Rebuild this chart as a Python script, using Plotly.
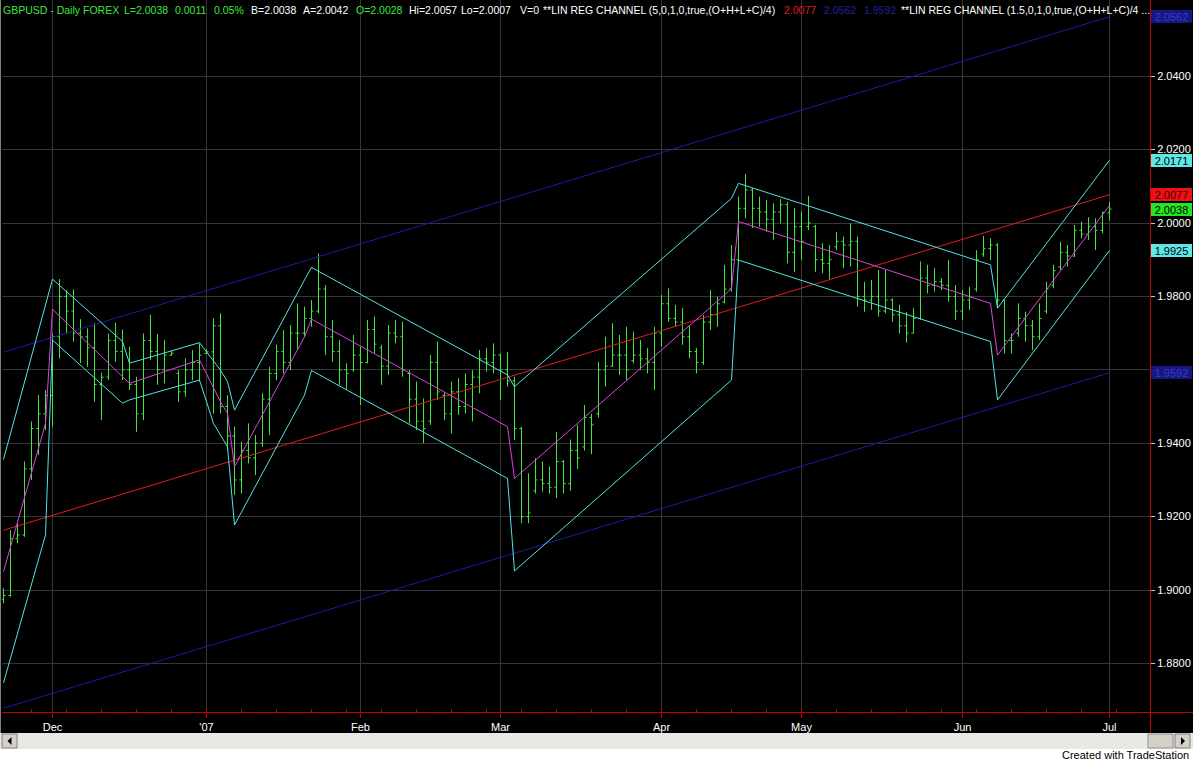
import plotly.graph_objects as go

# ---------------- data ----------------
high = [1.9005, 1.9163, 1.9182, 1.9350, 1.9459, 1.9531, 1.9545, 1.9699, 1.9847, 1.9817,
        1.9819, 1.9738, 1.9713, 1.9727, 1.9592, 1.9699, 1.9728, 1.9710, 1.9663, 1.9581,
        1.9699, 1.9750, 1.9698, 1.9681, 1.9652, 1.9599, 1.9631, 1.9654, 1.9672, 1.9655,
        1.9740, 1.9754, 1.9531, 1.9445, 1.9404, 1.9454, 1.9422, 1.9536, 1.9608, 1.9669,
        1.9708, 1.9722, 1.9781, 1.9772, 1.9790, 1.9917, 1.9831, 1.9736, 1.9681, 1.9618,
        1.9695, 1.9663, 1.9736, 1.9745, 1.9668, 1.9722, 1.9736, 1.9731, 1.9599, 1.9568,
        1.9522, 1.9640, 1.9677, 1.9538, 1.9568, 1.9577, 1.9590, 1.9599, 1.9654, 1.9659,
        1.9672, 1.9645, 1.9649, 1.9581, 1.9445, 1.9318, 1.9359, 1.9350, 1.9336, 1.9431,
        1.9354, 1.9410, 1.9450, 1.9504, 1.9480, 1.9622, 1.9690, 1.9727, 1.9695, 1.9717,
        1.9704, 1.9681, 1.9659, 1.9717, 1.9804, 1.9822, 1.9777, 1.9768, 1.9722, 1.9659,
        1.9749, 1.9817, 1.9799, 1.9886, 1.9940, 2.0072, 2.0134, 2.0095, 2.0072, 2.0063,
        2.0054, 2.0065, 2.0058, 2.0040, 2.0031, 2.0074, 1.9995, 1.9945, 1.9940, 1.9976,
        1.9963, 1.9999, 1.9963, 1.9840, 1.9845, 1.9872, 1.9872, 1.9795, 1.9777, 1.9758,
        1.9768, 1.9895, 1.9886, 1.9877, 1.9849, 1.9899, 1.9831, 1.9817, 1.9826, 1.9926,
        1.9965, 1.9958, 1.9945, 1.9790, 1.9699, 1.9781, 1.9758, 1.9736, 1.9781, 1.9840,
        1.9886, 1.9949, 1.9940, 1.9995, 2.0004, 2.0016, 2.0013, 2.0031, 2.0057]

low = [1.8964, 1.8982, 1.9128, 1.9145, 1.9300, 1.9368, 1.9436, 1.9445, 1.9631, 1.9699,
       1.9677, 1.9618, 1.9608, 1.9513, 1.9463, 1.9572, 1.9622, 1.9572, 1.9545, 1.9431,
       1.9463, 1.9627, 1.9559, 1.9563, 1.9638, 1.9513, 1.9527, 1.9572, 1.9568, 1.9643,
       1.9481, 1.9481, 1.9381, 1.9259, 1.9263, 1.9345, 1.9313, 1.9390, 1.9422, 1.9572,
       1.9590, 1.9599, 1.9654, 1.9690, 1.9717, 1.9754, 1.9640, 1.9622, 1.9559, 1.9545,
       1.9595, 1.9504, 1.9618, 1.9645, 1.9559, 1.9586, 1.9672, 1.9581, 1.9454, 1.9436,
       1.9400, 1.9450, 1.9518, 1.9463, 1.9427, 1.9477, 1.9481, 1.9459, 1.9536, 1.9595,
       1.9590, 1.9518, 1.9554, 1.9409, 1.9182, 1.9182, 1.9263, 1.9268, 1.9263, 1.9250,
       1.9263, 1.9270, 1.9330, 1.9380, 1.9370, 1.9470, 1.9554, 1.9608, 1.9586, 1.9572,
       1.9618, 1.9599, 1.9590, 1.9545, 1.9663, 1.9731, 1.9717, 1.9668, 1.9631, 1.9590,
       1.9613, 1.9708, 1.9717, 1.9781, 1.9813, 1.9899, 2.0013, 1.9986, 1.9990, 1.9976,
       1.9954, 1.9999, 1.9890, 1.9867, 1.9899, 1.9981, 1.9867, 1.9863, 1.9845, 1.9926,
       1.9877, 1.9881, 1.9772, 1.9758, 1.9763, 1.9745, 1.9754, 1.9731, 1.9699, 1.9674,
       1.9699, 1.9736, 1.9808, 1.9813, 1.9817, 1.9786, 1.9736, 1.9736, 1.9763, 1.9813,
       1.9908, 1.9899, 1.9768, 1.9645, 1.9645, 1.9690, 1.9677, 1.9654, 1.9681, 1.9754,
       1.9822, 1.9872, 1.9881, 1.9908, 1.9958, 1.9954, 1.9926, 1.9972, 2.0007]

close = [1.8985, 1.9140, 1.9150, 1.9330, 1.9440, 1.9480, 1.9530, 1.9690, 1.9800, 1.9760,
         1.9700, 1.9690, 1.9660, 1.9560, 1.9580, 1.9680, 1.9650, 1.9600, 1.9560, 1.9480,
         1.9680, 1.9650, 1.9600, 1.9640, 1.9645, 1.9540, 1.9600, 1.9620, 1.9640, 1.9649,
         1.9720, 1.9500, 1.9420, 1.9300, 1.9380, 1.9360, 1.9400, 1.9520, 1.9590, 1.9650,
         1.9620, 1.9700, 1.9700, 1.9740, 1.9760, 1.9820, 1.9690, 1.9650, 1.9600, 1.9590,
         1.9640, 1.9620, 1.9710, 1.9670, 1.9610, 1.9700, 1.9690, 1.9600, 1.9520, 1.9460,
         1.9440, 1.9620, 1.9540, 1.9480, 1.9540, 1.9500, 1.9560, 1.9580, 1.9630, 1.9620,
         1.9640, 1.9600, 1.9570, 1.9440, 1.9200, 1.9210, 1.9300, 1.9290, 1.9280, 1.9350,
         1.9290, 1.9380, 1.9360, 1.9470, 1.9450, 1.9600, 1.9610, 1.9640, 1.9640, 1.9600,
         1.9640, 1.9630, 1.9620, 1.9700, 1.9780, 1.9740, 1.9730, 1.9690, 1.9650, 1.9620,
         1.9730, 1.9750, 1.9780, 1.9820, 1.9900, 2.0040, 2.0090, 2.0040, 2.0030, 2.0010,
         2.0030, 2.0050, 1.9920, 1.9990, 1.9950, 2.0000, 1.9900, 1.9890, 1.9900, 1.9950,
         1.9940, 1.9950, 1.9800, 1.9790, 1.9800, 1.9760, 1.9790, 1.9750, 1.9720, 1.9700,
         1.9740, 1.9850, 1.9830, 1.9840, 1.9830, 1.9800, 1.9760, 1.9790, 1.9800, 1.9900,
         1.9930, 1.9940, 1.9790, 1.9680, 1.9680, 1.9740, 1.9720, 1.9690, 1.9740, 1.9820,
         1.9870, 1.9920, 1.9910, 1.9980, 1.9970, 1.9990, 1.9980, 2.0028, 2.0038]

open_ = [1.8975, 1.8985, 1.9140, 1.9150, 1.9330, 1.9440, 1.9480, 1.9530, 1.9690, 1.9800,
         1.9760, 1.9700, 1.9690, 1.9660, 1.9560, 1.9580, 1.9680, 1.9650, 1.9600, 1.9560,
         1.9480, 1.9680, 1.9650, 1.9600, 1.9640, 1.9590, 1.9540, 1.9600, 1.9620, 1.9645,
         1.9649, 1.9720, 1.9500, 1.9420, 1.9300, 1.9380, 1.9360, 1.9400, 1.9520, 1.9590,
         1.9650, 1.9620, 1.9700, 1.9700, 1.9740, 1.9760, 1.9820, 1.9690, 1.9650, 1.9600,
         1.9600, 1.9640, 1.9620, 1.9710, 1.9660, 1.9610, 1.9700, 1.9690, 1.9590, 1.9520,
         1.9460, 1.9460, 1.9620, 1.9530, 1.9480, 1.9540, 1.9500, 1.9560, 1.9580, 1.9630,
         1.9620, 1.9640, 1.9600, 1.9570, 1.9440, 1.9200, 1.9270, 1.9300, 1.9290, 1.9280,
         1.9350, 1.9290, 1.9380, 1.9390, 1.9470, 1.9480, 1.9600, 1.9610, 1.9640, 1.9640,
         1.9625, 1.9640, 1.9630, 1.9620, 1.9700, 1.9780, 1.9740, 1.9730, 1.9690, 1.9650,
         1.9620, 1.9730, 1.9750, 1.9785, 1.9820, 1.9900, 2.0040, 2.0090, 2.0040, 2.0030,
         2.0010, 2.0030, 2.0050, 1.9920, 1.9990, 1.9990, 1.9990, 1.9900, 1.9890, 1.9935,
         1.9950, 1.9940, 1.9950, 1.9800, 1.9790, 1.9800, 1.9760, 1.9790, 1.9750, 1.9720,
         1.9700, 1.9740, 1.9850, 1.9830, 1.9840, 1.9830, 1.9800, 1.9760, 1.9790, 1.9820,
         1.9915, 1.9930, 1.9940, 1.9790, 1.9680, 1.9700, 1.9740, 1.9720, 1.9690, 1.9760,
         1.9830, 1.9880, 1.9920, 1.9910, 1.9980, 1.9970, 1.9990, 1.9980, 2.0028]

bar_index = list(range(len(high)))

# long-term linear regression channel (5 std) : center + upper/lower
lr_idx = [0, 158]
lr_center = [1.9163, 2.0077]
lr_upper = [1.9648, 2.0562]
lr_lower = [1.8678, 1.9592]

# short rolling regression channel (1.5 std) vertices
mid_idx = [0, 6, 7, 18, 28, 31, 32, 33, 43, 44, 72, 73, 103, 104, 105, 141, 142, 158]
mid_val = [1.9050, 1.9454, 1.9765, 1.9563, 1.9627, 1.9513, 1.9481, 1.9336, 1.9690, 1.9738,
           1.9445, 1.9304, 1.9804, 1.9822, 2.0004, 1.9781, 1.9640, 2.0048]
up_idx = [0, 7, 17, 18, 28, 31, 32, 33, 43, 44, 72, 73, 104, 105, 141, 142, 158]
up_val = [1.9356, 1.9847, 1.9677, 1.9618, 1.9674, 1.9599, 1.9568, 1.9490, 1.9845, 1.9879,
          1.9586, 1.9554, 2.0067, 2.0108, 1.9886, 1.9768, 2.0171]
lo_idx = [0, 6, 7, 17, 18, 28, 30, 32, 33, 43, 44, 72, 73, 104, 105, 141, 142, 158]
lo_val = [1.8747, 1.9150, 1.9681, 1.9509, 1.9518, 1.9572, 1.9454, 1.9390, 1.9177, 1.9531,
          1.9598, 1.9304, 1.9052, 1.9572, 1.9899, 1.9677, 1.9518, 1.9925]

month_pos = [7, 29, 51, 71, 94, 114, 137, 158]
month_labels = ["Dec", "'07", "Feb", "Mar", "Apr", "May", "Jun", "Jul"]
price_ticks = [1.88, 1.90, 1.92, 1.94, 1.96, 1.98, 2.00, 2.02, 2.04]
# 1.9600 label is hidden behind the channel price marker in the reference
price_ticktext = ["1.8800", "1.9000", "1.9200", "1.9400", "", "1.9800", "2.0000", "2.0200", "2.0400"]

# ---------------- styling ----------------
W, H = 1193, 762
ML, MR, MT, MB = 2, 43, 0, 50
PW = W - ML - MR
PH = H - MT - MB
FONT = "Liberation Sans, Arial, sans-serif"

GREEN = "#3ee63e"
CYAN = "#55e3e3"
MAGENTA = "#dd44dd"
RED = "#e01c1c"
BLUE = "#1c1ca6"
AXRED = "#c80000"


def px(x):
    return (x - ML) / PW


def py(y):
    return (PH - y) / PH


x0 = -1.5 / 7.0
x_range = [x0, x0 + PW / 7.0]
y_top = 2.0 + 223 / 3670.0
y_range = [y_top - PH / 3670.0, y_top]

fig = go.Figure()
fig.add_trace(go.Ohlc(x=bar_index, open=open_, high=high, low=low, close=close,
                      increasing=dict(line=dict(color=GREEN, width=1)),
                      decreasing=dict(line=dict(color=GREEN, width=1)),
                      tickwidth=0.3, hoverinfo="skip", showlegend=False))

for xs, ys, col in [(lr_idx, lr_upper, BLUE), (lr_idx, lr_lower, BLUE),
                    (lr_idx, lr_center, RED),
                    (up_idx, up_val, CYAN), (lo_idx, lo_val, CYAN),
                    (mid_idx, mid_val, MAGENTA)]:
    fig.add_trace(go.Scatter(x=xs, y=ys, mode="lines", line=dict(color=col, width=1),
                             hoverinfo="skip", showlegend=False))

ann = []
# header text segments
header = [
    (3, "GBPUSD - Daily", GREEN), (83, "FOREX", GREEN), (124, "L=2.0038", GREEN),
    (175, "0.0011", GREEN), (214, "0.05%", GREEN), (251, "B=2.0038", "white"),
    (303, "A=2.0042", "white"), (356, "O=2.0028", GREEN), (409, "Hi=2.0057", "white"),
    (461, "Lo=2.0007", "white"), (520, "V=0", "white"),
    (543, "**LIN REG CHANNEL (5,0,1,0,true,(O+H+L+C)/4)", "white"),
    (784, "2.0077", RED), (824, "2.0562", "#22229a"), (864, "1.9592", "#22229a"),
    (901, "**LIN REG CHANNEL (1.5,0,1,0,true,(O+H+L+C)/4 ...", "white"),
]
for xl, txt, col in header:
    ann.append(dict(x=px(xl - 2), y=py(10), xref="paper", yref="paper", text=txt,
                    showarrow=False, xanchor="left", yanchor="middle",
                    font=dict(family=FONT, size=10.5, color=col)))

# price labels on the right axis
labels = [(2.0562, "2.0562", "#161682", "#3a3ac4"),
          (2.0171, "2.0171", "#5fe6e6", "#000000"),
          (2.0077, "2.0077", "#ee1111", "#3a0000"),
          (2.0038, "2.0038", "#22e622", "#000000"),
          (1.9925, "1.9925", "#5fe6e6", "#000000"),
          (1.9592, "1.9592", "#161682", "#3a3ac4")]
for val, txt, bg, fc in labels:
    ann.append(dict(x=px(1151), y=val, xref="paper", yref="y", text=txt, showarrow=False,
                    xanchor="left", yanchor="middle", bgcolor=bg, width=41, height=13,
                    borderpad=0, borderwidth=0, align="center",
                    font=dict(family=FONT, size=11, color=fc)))

ann.append(dict(x=px(1191), y=py(755), xref="paper", yref="paper",
                text="Created with TradeStation", showarrow=False, xanchor="right",
                yanchor="middle", font=dict(family=FONT, size=11, color="black")))

shapes = []


def rect(xa, ya, xb, yb, fill, line=None, lw=0):
    shapes.append(dict(type="rect", xref="paper", yref="paper",
                       x0=px(xa), x1=px(xb), y0=py(ya), y1=py(yb),
                       fillcolor=fill, line=dict(color=line or fill, width=lw)))


def seg(xa, ya, xb, yb, col, w=1):
    shapes.append(dict(type="line", xref="paper", yref="paper",
                       x0=px(xa), x1=px(xb), y0=py(ya), y1=py(yb),
                       line=dict(color=col, width=w)))


def tri(pts):
    path = "M " + " L ".join(f"{px(a)},{py(b)}" for a, b in pts) + " Z"
    shapes.append(dict(type="path", xref="paper", yref="paper", path=path,
                       fillcolor="black", line=dict(color="black", width=0)))


# scroll bar and bottom strip
rect(0, 733, W, 749, "#e9e8e4")
rect(0, 749, W, H, "#ffffff")
rect(2, 734, 17, 748, "#d4d0c8", "#808080", 1)
rect(1148, 734, 1173, 748, "#d4d0c8", "#909090", 1)
rect(1175, 734, 1190, 748, "#d4d0c8", "#808080", 1)
tri([(7.5, 741), (11.5, 737), (11.5, 745)])
tri([(1181, 737), (1181, 745), (1185, 741)])
# axis line extensions & border
seg(1150, 712.5, W, 712.5, AXRED)
seg(1150.5, 712, 1150.5, 733, AXRED)
seg(0.5, 0, 0.5, 733, "#808080")

fig.update_layout(
    width=W, height=H,
    margin=dict(l=ML, r=MR, t=MT, b=MB, pad=0),
    paper_bgcolor="black", plot_bgcolor="black",
    showlegend=False, hovermode=False,
    font=dict(family=FONT, size=11, color="white"),
    annotations=ann, shapes=shapes,
    xaxis=dict(range=x_range, tickmode="array", tickvals=month_pos, ticktext=month_labels,
               showgrid=True, gridcolor="#363636", gridwidth=1, zeroline=False,
               ticks="outside", ticklen=5, tickcolor=AXRED, tickwidth=1,
               showline=True, linecolor=AXRED, linewidth=1,
               tickfont=dict(family=FONT, size=11, color="white"),
               rangeslider=dict(visible=False), fixedrange=True,
               minor=dict(tickmode="linear", tick0=4, dtick=5, ticks="inside",
                          ticklen=3, tickcolor="#a01010", showgrid=False)),
    yaxis=dict(range=y_range, side="right", tickmode="array", tickvals=price_ticks,
               ticktext=price_ticktext,
               showgrid=True, gridcolor="#363636", gridwidth=1, zeroline=False,
               ticks="outside", ticklen=4, tickcolor="#c8c8c8", tickwidth=1,
               showline=True, linecolor=AXRED, linewidth=1, fixedrange=True,
               tickfont=dict(family=FONT, size=11, color="white")),
)

fig.write_html("out.html", config={"displayModeBar": False},
               post_script="document.body.style.margin='0';document.body.style.overflow='hidden';")
